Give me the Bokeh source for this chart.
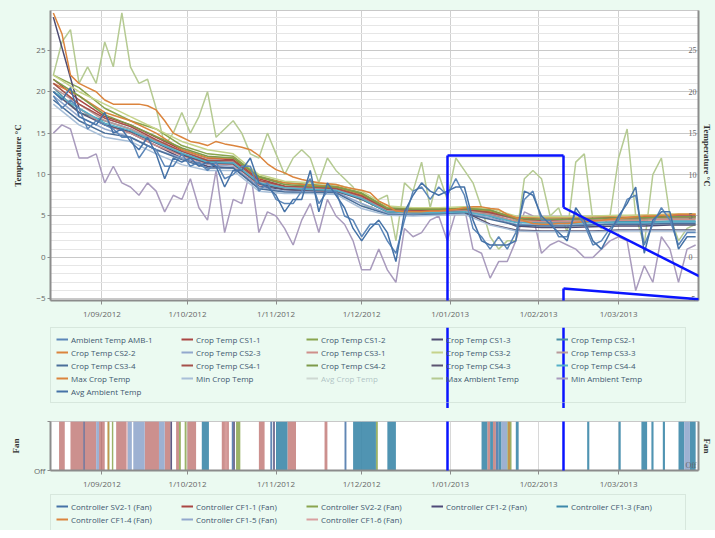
import pandas as pd
from bokeh.plotting import figure
from bokeh.models import (LinearAxis, FixedTicker, SingleIntervalTicker, Legend,
                          LegendItem, ColumnDataSource, Arrow, LabelSet)
from bokeh.layouts import column
from bokeh.embed import file_html
from bokeh.resources import INLINE

# ---------------- data ----------------
x_first, x_last = "2012-08-14", "2013-03-29"
month_ticks = ["2012-09-01", "2012-10-01", "2012-11-01", "2012-12-01",
               "2013-01-01", "2013-02-01", "2013-03-01"]
month_labels = ["1/09/2012", "1/10/2012", "1/11/2012", "1/12/2012",
                "1/01/2013", "1/02/2013", "1/03/2013"]
temp_ticks = [-5, 0, 5, 10, 15, 20, 25]
temp_labels = ["-5", "0", "5", "10", "15", "20", "25"]

# ambient series: one reading every 3 days from 15 Aug 2012
amb_dates = pd.date_range("2012-08-15", periods=76, freq="3D")
amb_1 = [19.5, 18, 19, 18, 15.5, 16.5, 16, 15.5, 14.5, 14.5,
         12, 13.5, 13, 11, 11, 12.5, 11, 11.5, 10.5, 11.5,
         9.5, 10, 11, 11, 8, 9, 7, 6.5, 6.5, 8,
         9.5, 6.5, 8, 8, 5, 4.5, 2.5, 4, 4, 2,
         0.5, 4.5, 8, 8.5, 7, 8.5, 7.5, 9.5, 7.5, 3.5,
         2.5, 1, 2.5, 1, 3, 7, 8, 4.5, 4.5, 2.5,
         2.5, 5.5, 4, 1.5, 2, 3.5, 4.5, 7, 7.5, 1.5,
         4, 6, 4.5, 1.5, 3, 3]
max_ambient = [22, 26, 27.5, 21, 23, 21, 26, 23, 29.5, 23,
               21, 21.5, 18, 13.5, 15, 17.5, 15, 17, 20, 14.5,
               15.5, 16.5, 15, 12.5, 12, 15, 12.5, 10, 12, 13,
               12, 9, 12, 10.5, 9.5, 8.5, 6.5, 6, 7, 7.5,
               2, 9, 8, 11.5, 6, 10, 7, 12, 10.5, 9,
               6, 2.5, 1, 2, 2, 9.5, 10.5, 9.5, 5, 6,
               3, 11.5, 12.5, 4.5, 3.5, 5, 12, 15.5, 5, 1.5,
               10, 12, 5, 2, 3.5, 4]
min_ambient = [15, 16, 15.5, 12, 12, 12.5, 9, 11, 9, 8.5,
               7.5, 9, 8, 5.5, 7.5, 7, 9.5, 6, 4.5, 10.5,
               3, 7, 6.5, 10.5, 3, 5.5, 5, 3.5, 1.5, 4.5,
               6.5, 3, 7, 5, 4, 2, -1.5, -1.5, 1, -1.5,
               -3, 3.5, 2.5, 3, 4.5, 5, 2, 5.5, 6, 1,
               0.5, -2.5, -0.5, -0.5, 2, 5.5, 5, 0.5, 1.5, 2,
               1.5, 1, 0, 0, 1, 2, 2.5, 2, -4, -1,
               -3, 2.5, 1, -3, 1, 1.5]
avg_ambient = [20, 19, 20.5, 17, 16.5, 16, 17.5, 15, 15.5, 14,
               13, 14.5, 12.5, 9.5, 12, 11.5, 12, 11, 11.5, 11,
               8.5, 10.5, 10.5, 12, 9, 8.5, 7.5, 5.5, 7, 7,
               10.5, 5.5, 9, 7.5, 6, 3.5, 2, 3.5, 4.5, 3,
               -0.5, 5.5, 7.5, 9, 8, 7.5, 8, 8.5, 8.5, 4.5,
               2, 1.5, 1.5, 1.5, 2, 8, 7.5, 5, 4, 3,
               2, 6, 4.5, 2, 1, 3, 5, 6.5, 8.5, 0.5,
               4.5, 5.5, 5.5, 1, 2.5, 2.5]
max_crop = [29.5, 27, 22, 21, 20.5, 20, 19, 18.5, 18.5, 18.5,
            18.5, 18.3, 17.8, 16.5, 15, 14.5, 14, 13.8, 13.5, 14,
            13.7, 13.5, 13.3, 13, 12.3, 11.3, 10.6, 10.2, 9.7, 9.4,
            9.2, 9, 8.9, 8.8, 8.5, 8.3, 8.1, 7.8, 6.8, 6.3,
            5.6, 5.5, 5.5, 5.5, 5.6, 5.6, 5.7, 5.8, 6.0, 6.1,
            6.1, 5.9, 5.8, 5.2, 4.8, 4.4, 4.1, 4.0, 4.0, 4.1,
            4.1, 4.2, 4.3, 4.4, 4.5, 4.6, 4.7, 4.8, 4.9, 5.0,
            5.0, 5.1, 5.1, 5.2, 5.2, 5.2]

# crop sensors: one reading every 9 days from 15 Aug 2012
crop_dates = pd.date_range("2012-08-15", periods=26, freq="9D")
cs1_1 = [21.5, 19, 17, 16, 14.5, 13, 12, 11.8, 9.5, 8.6, 8.5, 8.4, 7.5, 5.8, 5.7, 5.7, 5.8, 5.5, 4.8, 4.6, 4.6, 4.7, 4.8, 4.9, 5.0, 5.0]
cs1_2 = [22, 20.5, 18, 16.5, 15.5, 13.5, 12.5, 12.2, 9.8, 9.0, 8.8, 8.6, 7.8, 6.0, 5.9, 5.9, 6.0, 5.8, 4.5, 4.4, 4.4, 4.5, 4.6, 4.6, 4.7, 4.7]
cs1_3 = [29, 18, 16, 15, 13.5, 12, 11, 10.8, 8.6, 8.2, 8.0, 8.0, 7.2, 5.6, 5.5, 5.5, 5.6, 5.0, 3.8, 3.6, 3.6, 3.7, 3.8, 3.8, 3.9, 3.9]
cs2_1 = [20.5, 17.5, 16.5, 15.5, 14.0, 12.5, 11.6, 11.5, 9.0, 8.4, 8.3, 8.2, 7.0, 5.5, 5.4, 5.4, 5.5, 5.2, 4.3, 4.2, 4.2, 4.2, 4.3, 4.3, 4.4, 4.4]
cs2_2 = [21, 19.5, 17.5, 16.5, 15.0, 13.0, 12.0, 12.0, 9.6, 9.0, 8.7, 8.5, 7.6, 5.9, 5.8, 5.8, 5.9, 5.6, 4.9, 4.8, 4.8, 4.9, 5.0, 5.1, 5.2, 5.2]
cs2_3 = [19.5, 17, 15.5, 14.5, 13, 12, 11.2, 11.0, 8.5, 8.0, 7.9, 7.9, 6.5, 5.3, 5.2, 5.3, 5.4, 4.8, 4.0, 3.9, 3.9, 4.0, 4.1, 4.1, 4.2, 4.2]
cs3_1 = [20, 18, 16, 15, 13.5, 12.3, 11.3, 11.2, 8.8, 8.3, 8.1, 8.0, 7.1, 5.6, 5.5, 5.5, 5.6, 5.1, 4.4, 4.3, 4.3, 4.4, 4.5, 4.5, 4.6, 4.6]
cs3_2 = [22, 20, 18.5, 17, 15.5, 14, 13, 12.5, 10.0, 9.2, 9.0, 8.8, 8.0, 6.2, 6.0, 6.0, 6.1, 5.9, 5.0, 4.9, 4.9, 5.0, 5.1, 5.1, 5.2, 5.2]
cs3_3 = [20.5, 18.5, 16.5, 15.5, 14, 12.8, 11.8, 11.6, 9.2, 8.5, 8.4, 8.2, 7.3, 5.7, 5.6, 5.6, 5.7, 5.3, 4.6, 4.5, 4.5, 4.6, 4.7, 4.7, 4.8, 4.8]
cs3_4 = [19, 16.5, 15, 14.5, 13, 11.8, 10.8, 10.8, 8.3, 7.9, 7.8, 7.8, 6.2, 5.2, 5.1, 5.2, 5.3, 4.6, 3.9, 3.8, 3.8, 3.9, 4.0, 4.0, 4.1, 4.1]
cs4_1 = [21, 18.5, 16.8, 15.8, 14.2, 12.8, 11.7, 11.7, 9.3, 8.6, 8.5, 8.3, 7.4, 5.8, 5.7, 5.7, 5.8, 5.4, 4.7, 4.5, 4.6, 4.7, 4.8, 4.8, 4.9, 4.9]
cs4_2 = [21.5, 19.5, 17.2, 16, 14.6, 13.2, 12.2, 12.0, 9.7, 8.8, 8.6, 8.5, 7.7, 5.9, 5.8, 5.8, 5.9, 5.7, 4.7, 4.6, 4.6, 4.7, 4.8, 4.8, 4.9, 4.9]
cs4_3 = [20, 17.5, 16, 15.2, 13.8, 12.4, 11.4, 11.3, 8.9, 8.2, 8.1, 8.0, 7.0, 5.5, 5.4, 5.4, 5.5, 4.0, 3.3, 3.2, 3.2, 3.2, 3.3, 3.3, 3.3, 3.3]
cs4_4 = [20, 18, 16.2, 15.3, 13.9, 12.6, 11.5, 11.4, 9.0, 8.4, 8.2, 8.1, 7.1, 5.5, 5.4, 5.4, 5.5, 5.0, 4.2, 4.1, 4.1, 4.2, 4.2, 4.2, 4.3, 4.3]
min_crop = [18.5, 16, 14.5, 14, 12.5, 11.2, 10.5, 10.5, 8.0, 7.7, 7.7, 7.6, 5.9, 5.1, 5.0, 5.1, 5.2, 3.9, 3.2, 3.1, 3.1, 3.1, 3.2, 3.2, 3.2, 3.2]
avg_crop = [21, 18.5, 16.5, 15.5, 14, 12.7, 11.7, 11.5, 9.2, 8.5, 8.3, 8.2, 7.2, 5.7, 5.6, 5.6, 5.7, 5.2, 4.4, 4.3, 4.3, 4.4, 4.5, 4.5, 4.6, 4.6]

# fan controllers: on-periods (start, end)
sv2_1 = [("2012-10-16 12:00", "2012-10-17"), ("2012-10-30", "2012-10-30 16:00"),
         ("2012-11-25", "2012-11-25 16:00"), ("2013-01-17", "2013-01-18")]
cf1_1 = [("2012-08-17", "2012-08-19"), ("2012-08-21", "2012-08-25 12:00"),
         ("2012-08-26", "2012-08-30"), ("2012-08-31", "2012-09-02"),
         ("2012-09-06", "2012-09-09 12:00"), ("2012-09-16", "2012-09-21"),
         ("2012-09-23", "2012-09-25"), ("2012-09-27", "2012-09-28"),
         ("2012-10-01", "2012-10-04"), ("2012-10-13", "2012-10-15 12:00"),
         ("2012-10-26", "2012-10-28"), ("2012-11-05", "2012-11-08"),
         ("2012-11-18", "2012-11-19"), ("2013-01-14", "2013-01-15"),
         ("2013-01-16", "2013-01-17")]
sv2_2 = [("2012-09-03", "2012-09-03 16:00"), ("2012-09-04 12:00", "2012-09-05"),
         ("2012-09-28", "2012-09-28 16:00"), ("2012-09-30", "2012-09-30 16:00"),
         ("2012-10-18", "2012-10-19 12:00"), ("2012-12-06", "2012-12-06 16:00"),
         ("2013-01-21", "2013-01-22 12:00")]
cf1_2 = [("2012-08-25 12:00", "2012-08-26"), ("2012-09-25", "2012-09-25 14:00"),
         ("2012-10-17", "2012-10-17 14:00"), ("2012-10-31", "2012-10-31 14:00")]
cf1_3 = [("2012-10-06", "2012-10-08 12:00"), ("2012-11-01", "2012-11-05"),
         ("2012-11-28", "2012-12-06"), ("2012-12-10", "2012-12-13"),
         ("2013-01-12", "2013-01-14"), ("2013-01-15", "2013-01-16"),
         ("2013-01-18", "2013-01-19"), ("2013-01-24", "2013-01-25"),
         ("2013-02-18", "2013-02-18 18:00"), ("2013-03-01", "2013-03-01 18:00"),
         ("2013-03-09", "2013-03-11"), ("2013-03-12 12:00", "2013-03-13 06:00"),
         ("2013-03-16 12:00", "2013-03-17 06:00"), ("2013-03-22", "2013-03-24"),
         ("2013-03-26", "2013-03-28")]
cf1_4 = [("2012-09-03", "2012-09-03 12:00"), ("2013-01-21 06:00", "2013-01-22")]
cf1_5 = [("2012-08-30", "2012-08-31"), ("2012-09-10", "2012-09-11 12:00"),
         ("2012-09-12", "2012-09-16"), ("2012-09-21", "2012-09-23"),
         ("2013-01-19", "2013-01-21"), ("2013-03-24", "2013-03-26")]
cf1_6 = [("2012-09-09 12:00", "2012-09-10"), ("2012-10-14", "2012-10-15")]

# ---------------- styling ----------------
BG = "#ebfaf1"
AXIS = "#8c8c8c"
TICK_FONT = "Open Sans"
LEG_TXT = "#3E576F"
W = 715
x_rng = (pd.Timestamp(x_first), pd.Timestamp(x_last))
tick_ms = [pd.Timestamp(t).value // 10**6 for t in month_ticks]
tick_over = {int(ms): lab for ms, lab in zip(tick_ms, month_labels)}


def style_xaxis(ax):
    ax.ticker = FixedTicker(ticks=tick_ms)
    ax.major_label_overrides = tick_over
    ax.major_label_text_font = TICK_FONT
    ax.major_label_text_font_size = "8px"
    ax.major_label_text_color = "#666666"
    ax.axis_line_color = AXIS
    ax.axis_line_width = 2
    ax.major_tick_line_color = AXIS
    ax.major_tick_out = 4
    ax.major_tick_in = 0
    ax.minor_tick_out = 0
    ax.minor_tick_in = 0
    ax.major_label_standoff = 3


def style_yaxis(ax, label):
    ax.axis_label = label
    ax.axis_label_text_font = "Liberation Serif"
    ax.axis_label_text_font_style = "bold"
    ax.axis_label_text_font_size = "9px"
    ax.axis_label_text_color = "#333333"
    ax.major_label_text_font = TICK_FONT
    ax.major_label_text_font_size = "8px"
    ax.major_label_text_color = "#666666"
    ax.axis_line_color = AXIS
    ax.axis_line_width = 2
    ax.major_tick_line_color = AXIS
    ax.major_tick_out = 3
    ax.major_tick_in = 0
    ax.minor_tick_out = 0
    ax.minor_tick_in = 0


def style_right(ax, label):
    style_yaxis(ax, label)
    ax.ticker = FixedTicker(ticks=[])
    ax.major_label_standoff = 0
    ax.major_tick_out = 0
    ax.axis_label_standoff = 3


def legend_fig(height, top_gap):
    lf = figure(width=W, height=height, x_range=(0, 1), y_range=(0, 1),
                output_backend="svg", toolbar_location=None,
                x_axis_location=None, y_axis_location=None,
                background_fill_color=BG, border_fill_color=BG,
                min_border_left=50, min_border_right=0,
                min_border_top=top_gap, min_border_bottom=0)
    lf.grid.visible = False
    lf.outline_line_color = None
    return lf


def make_legend(items):
    return Legend(items=items, orientation="horizontal", ncols=5, location="top_left",
                  label_text_font=TICK_FONT, label_text_font_size="8px",
                  label_text_color=LEG_TXT, glyph_width=12, glyph_height=12,
                  label_height=12, label_width=109, label_standoff=3, spacing=1,
                  padding=5, margin=0, border_line_color="#c3d3c9",
                  border_line_width=1, background_fill_color=BG,
                  background_fill_alpha=0.0, click_policy="hide",
                  inactive_fill_color=BG, inactive_fill_alpha=0.65)


def legend_key(lf, col, vis=True):
    # key line kept outside the strip's visible range; only its legend glyph shows
    return lf.line(x=[-2, -1], y=[-2, -2], line_color=col, line_width=2, visible=vis)


def blue_line(fig, x0, y0, x1, y1):
    fig.add_layout(Arrow(start=None, end=None, x_start=x0, y_start=y0, x_end=x1, y_end=y1,
                         start_units="canvas", end_units="canvas",
                         line_color="#0a14ff", line_width=2.5, level="overlay"))


# ---------------- temperature chart ----------------
p = figure(x_axis_type="datetime", x_range=x_rng, y_range=(-5.2, 29.8),
           width=W, height=321, output_backend="svg",
           toolbar_location=None, background_fill_color="white",
           border_fill_color=BG, min_border_left=37, min_border_right=17,
           min_border_top=10, min_border_bottom=18)
p.outline_line_color = "#c8c8c8"
yt = SingleIntervalTicker(interval=5, num_minor_ticks=5)
p.yaxis.ticker = yt
p.ygrid.ticker = yt
p.ygrid.grid_line_color = "#c9c9c9"
p.ygrid.minor_grid_line_color = "#e6e6e6"
p.xgrid.ticker = FixedTicker(ticks=tick_ms)
p.xgrid.grid_line_color = "#d0d0d0"
style_xaxis(p.xaxis[0])
style_yaxis(p.yaxis[0], "Temperature °C")
p.yaxis[0].major_label_standoff = 2
p.yaxis[0].axis_label_standoff = 10
ry = LinearAxis()
style_right(ry, "Temperature °C")
p.add_layout(ry, "right")
p.add_layout(LabelSet(x="x", y="y", text="t", x_offset=-10, text_align="left",
                      text_baseline="middle", text_font=TICK_FONT,
                      text_font_size="8px", text_color="#666666",
                      source=ColumnDataSource(dict(x=[pd.Timestamp(x_last)] * len(temp_ticks),
                                                   y=temp_ticks, t=temp_labels))))

series = [
    ("Ambient Temp AMB-1", amb_dates, amb_1, "#5b86b8", True),
    ("Crop Temp CS1-1", crop_dates, cs1_1, "#AA4643", True),
    ("Crop Temp CS1-2", crop_dates, cs1_2, "#89A54E", True),
    ("Crop Temp CS1-3", crop_dates, cs1_3, "#4f4c72", True),
    ("Crop Temp CS2-1", crop_dates, cs2_1, "#4a8fa5", True),
    ("Crop Temp CS2-2", crop_dates, cs2_2, "#DB843D", True),
    ("Crop Temp CS2-3", crop_dates, cs2_3, "#92A8CD", True),
    ("Crop Temp CS3-1", crop_dates, cs3_1, "#cf8f8a", True),
    ("Crop Temp CS3-2", crop_dates, cs3_2, "#c5d38a", True),
    ("Crop Temp CS3-3", crop_dates, cs3_3, "#b99a9a", True),
    ("Crop Temp CS3-4", crop_dates, cs3_4, "#4a6f9a", True),
    ("Crop Temp CS4-1", crop_dates, cs4_1, "#a5504a", True),
    ("Crop Temp CS4-2", crop_dates, cs4_2, "#7d9a4a", True),
    ("Crop Temp CS4-3", crop_dates, cs4_3, "#5b5470", True),
    ("Crop Temp CS4-4", crop_dates, cs4_4, "#55b0c8", True),
    ("Max Crop Temp", amb_dates, max_crop, "#DB843D", True),
    ("Min Crop Temp", crop_dates, min_crop, "#a8bfd8", True),
    ("Avg Crop Temp", crop_dates, avg_crop, "#999999", False),
    ("Max Ambient Temp", amb_dates, max_ambient, "#B5CA92", True),
    ("Min Ambient Temp", amb_dates, min_ambient, "#A99BBD", True),
    ("Avg Ambient Temp", amb_dates, avg_ambient, "#4572A7", True),
]
draw_order = [18, 19] + list(range(1, 18)) + [0, 20]
for i in draw_order:
    name, xs, ys, col, vis = series[i]
    p.line(x=xs, y=ys, line_color=col, line_width=1.5, visible=vis)

# legend of the temperature chart (own strip below the chart)
lg1 = legend_fig(87, 6)
lg1.add_layout(make_legend([LegendItem(label=name, renderers=[legend_key(lg1, col, vis)])
                            for name, xs, ys, col, vis in series]))

# ---------------- fan chart ----------------
f = figure(x_axis_type="datetime", x_range=p.x_range, y_range=(0, 1),
           width=W, height=83, output_backend="svg",
           toolbar_location=None, background_fill_color="white",
           border_fill_color=BG, min_border_left=39, min_border_right=17,
           min_border_top=13, min_border_bottom=18)
f.outline_line_color = "#c8c8c8"
f.ygrid.grid_line_color = None
f.xgrid.ticker = FixedTicker(ticks=tick_ms)
f.xgrid.grid_line_color = "#d8d8d8"
style_xaxis(f.xaxis[0])
fan_ticks = FixedTicker(ticks=[0, 1])
style_yaxis(f.yaxis[0], "Fan")
f.yaxis[0].ticker = fan_ticks
f.yaxis[0].major_label_overrides = {0: "Off", 1: " "}
f.yaxis[0].major_label_standoff = 2
f.yaxis[0].axis_label_standoff = 10
fr = LinearAxis()
style_right(fr, "Fan")
f.add_layout(fr, "right")

fans = [
    ("Controller SV2-1 (Fan)", sv2_1, "#4572A7", 0.85),
    ("Controller CF1-1 (Fan)", cf1_1, "#AA4643", 0.6),
    ("Controller SV2-2 (Fan)", sv2_2, "#89A54E", 0.85),
    ("Controller CF1-2 (Fan)", cf1_2, "#4e4a78", 0.9),
    ("Controller CF1-3 (Fan)", cf1_3, "#3d88aa", 0.9),
    ("Controller CF1-4 (Fan)", cf1_4, "#DB843D", 0.6),
    ("Controller CF1-5 (Fan)", cf1_5, "#92A8CD", 0.9),
    ("Controller CF1-6 (Fan)", cf1_6, "#d9a0a0", 0.8),
]
for name, periods, col, alpha in fans:
    src = ColumnDataSource(dict(left=[pd.Timestamp(a) for a, b in periods],
                                right=[pd.Timestamp(b) for a, b in periods]))
    f.quad(left="left", right="right", bottom=0, top=1, source=src,
           fill_color=col, fill_alpha=alpha, line_color=None)
f.add_layout(LabelSet(x="x", y="y", text="t", x_offset=-13, y_offset=1,
                      text_align="left", text_baseline="bottom", text_font=TICK_FONT,
                      text_font_size="8px", text_color="#666666",
                      source=ColumnDataSource(dict(x=[pd.Timestamp(x_last)], y=[0], t=["Off"]))))

lg2 = legend_fig(39, 3)
lg2.add_layout(make_legend([LegendItem(label=name, renderers=[legend_key(lg2, col)])
                            for name, periods, col, alpha in fans]))

# ---------------- blue zoom-callout overlay (canvas px) ----------------
for seg in [(447, 155, 563, 155), (563, 155, 563, 207), (563, 207, 715, 284),
            (563, 288, 715, 300), (563, 288, 563, 400), (447, 155, 447, 400)]:
    blue_line(p, *seg)
for seg in [(447, 0, 447, 87), (563, 0, 563, 87)]:
    blue_line(lg1, *seg)
for seg in [(447, 0, 447, 68), (563, 0, 563, 68), (447, 68, 563, 68)]:
    blue_line(f, *seg)

page = column(p, lg1, f, lg2, spacing=0, styles={"background-color": BG})
open("out.html", "w").write(file_html(page, INLINE))
